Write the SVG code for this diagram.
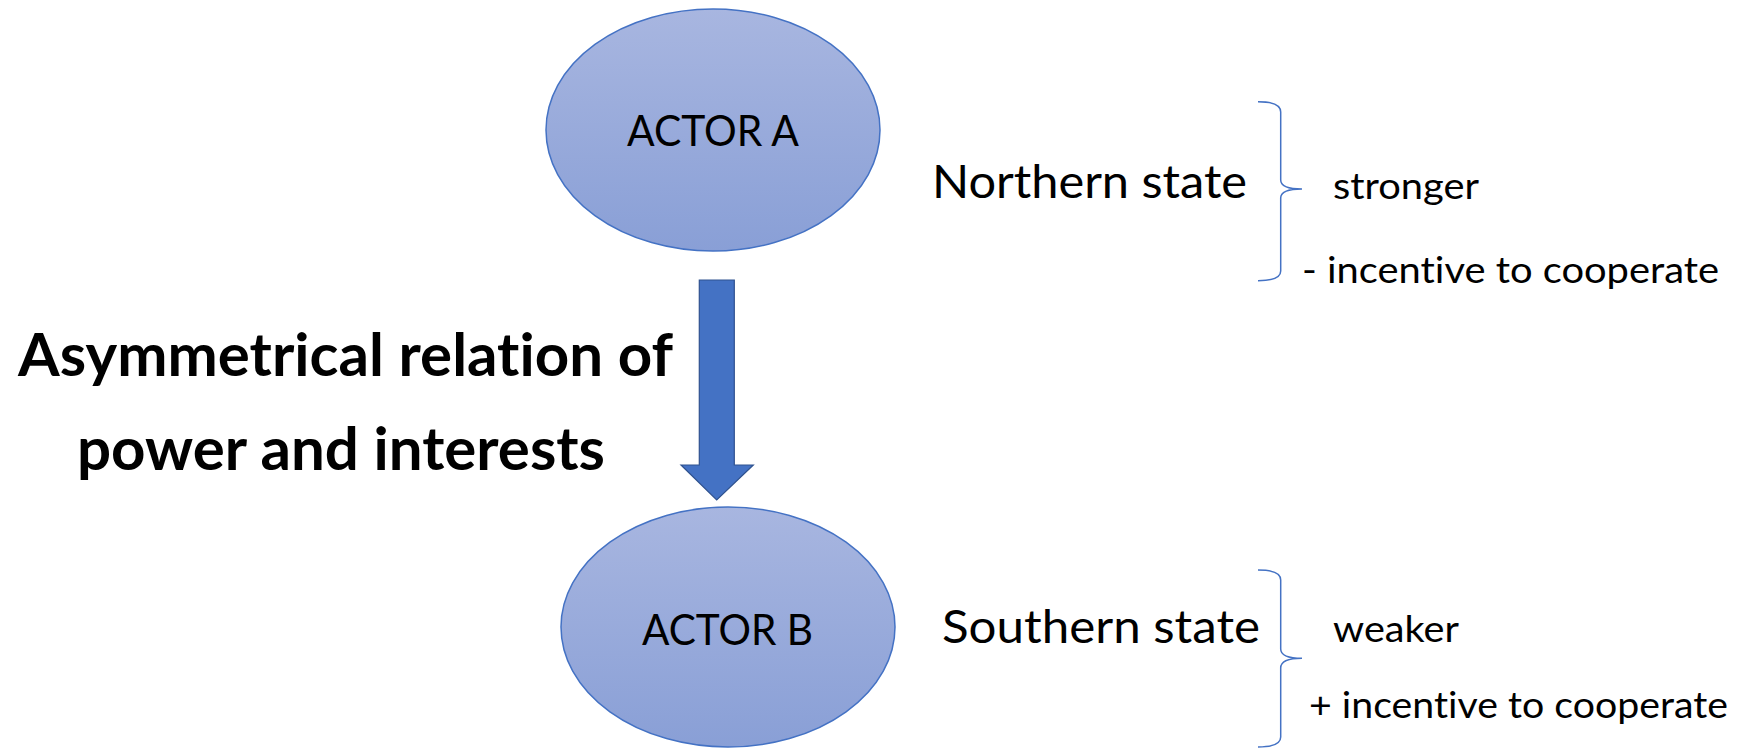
<svg xmlns="http://www.w3.org/2000/svg" width="1744" height="748" viewBox="0 0 1744 748">
  <style>
    .t { font-family: Lato, "Open Sans", "Liberation Sans", sans-serif; fill: #000; font-variant-ligatures: none; font-feature-settings: "liga" 0, "clig" 0; }
    .b { font-weight: bold; }
    .node { fill: url(#g); stroke: #4472C4; stroke-width: 1.5; }
    .brace { fill: none; stroke: #4472C4; stroke-width: 1.5; }
  </style>
  <defs>
    <linearGradient id="g" x1="0" y1="0" x2="0" y2="1">
      <stop offset="0" stop-color="#A8B6E0"/>
      <stop offset="1" stop-color="#899FD6"/>
    </linearGradient>
  </defs>
  <rect width="1744" height="748" fill="#fff"/>

  <g id="actorA">
    <ellipse class="node" cx="713" cy="130" rx="167" ry="121"/>
    <text class="t" x="627" y="146" font-size="42" textLength="172" lengthAdjust="spacingAndGlyphs">ACTOR A</text>
  </g>

  <g id="actorB">
    <ellipse class="node" cx="728" cy="627" rx="167" ry="120"/>
    <text class="t" x="642" y="645" font-size="42" textLength="171" lengthAdjust="spacingAndGlyphs">ACTOR B</text>
  </g>

  <g id="connectors">
    <path d="M699.3,280 L734.3,280 L734.3,465 L753.3,465 L716.7,500 L681,465 L699.3,465 Z" fill="#4472C4" stroke="#2F528F" stroke-width="1.2"/>
  </g>

  <g id="relation-label">
    <text class="t b" x="18" y="376" font-size="59" textLength="655" lengthAdjust="spacingAndGlyphs">Asymmetrical relation of</text>
    <text class="t b" x="77" y="470" font-size="59" textLength="528" lengthAdjust="spacingAndGlyphs">power and interests</text>
  </g>

  <g id="northern">
    <text class="t" x="932" y="198" font-size="46.5" textLength="315" lengthAdjust="spacingAndGlyphs">Northern state</text>
    <path class="brace" d="M1258,101.7 Q1280.7,101.7 1280.7,112 L1280.7,180 Q1280.7,189 1302,189 Q1280.7,189 1280.7,198 L1280.7,271 Q1280.7,280.7 1258,280.7"/>
    <text class="t" x="1333" y="199" font-size="37" textLength="146" lengthAdjust="spacingAndGlyphs">stronger</text>
    <text class="t" x="1302" y="283" font-size="37" textLength="417" lengthAdjust="spacingAndGlyphs">- incentive to cooperate</text>
  </g>

  <g id="southern">
    <text class="t" x="942" y="643" font-size="46.5" textLength="318" lengthAdjust="spacingAndGlyphs">Southern state</text>
    <path class="brace" d="M1258,570 Q1280.7,570 1280.7,580 L1280.7,649 Q1280.7,658.3 1302,658.3 Q1280.7,658.3 1280.7,668 L1280.7,737 Q1280.7,747 1258,747"/>
    <text class="t" x="1333" y="642" font-size="37" textLength="126" lengthAdjust="spacingAndGlyphs">weaker</text>
    <text class="t" x="1309" y="718" font-size="37" textLength="419" lengthAdjust="spacingAndGlyphs">+ incentive to cooperate</text>
  </g>
</svg>
